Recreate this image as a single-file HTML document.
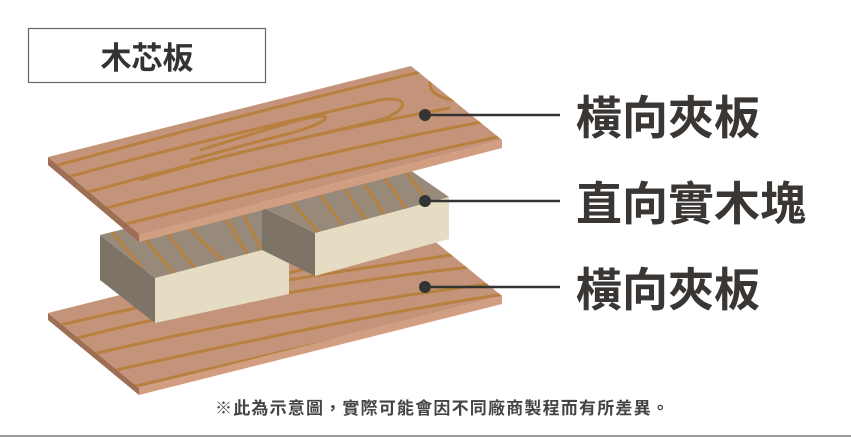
<!DOCTYPE html>
<html><head><meta charset="utf-8"><style>
html,body{margin:0;padding:0;background:#fff;}
body{width:851px;height:437px;overflow:hidden;position:relative;font-family:"Liberation Sans","Noto Sans CJK TC",sans-serif;}
svg{position:absolute;left:0;top:0;}
</style></head><body>
<svg width="851" height="437" viewBox="0 0 851 437" xmlns="http://www.w3.org/2000/svg">
<defs>
<clipPath id="ct"><polygon points="48,157 411,66 502,140 139,234"/></clipPath>
<clipPath id="cb"><polygon points="48,313 411,222 502,296 139,388"/></clipPath>
<clipPath id="cl"><polygon points="100,235 252,197 289,243 155,278"/></clipPath>
<clipPath id="cr"><polygon points="262,207 410,170 449,197 315,233"/></clipPath>
</defs>
<rect x="28.5" y="28.5" width="237" height="54" fill="#fff" stroke="#666" stroke-width="1.2"/>
<text x="147" y="69" font-size="31" font-weight="bold" fill="#333" text-anchor="middle" font-family="Liberation Sans, Noto Sans CJK TC, sans-serif">木芯板</text>

<polygon points="48,313 139,388 139,395 48,320" fill="#9e6e55"/>
<polygon points="139,388 502,296 502,304 139,395" fill="#d29e82"/>
<polygon points="48,313 411,222 502,296 139,388" fill="#c4947a"/>
<g clip-path="url(#cb)" fill="none" stroke="#b8803f" stroke-width="3">
<path d="M40,330 C200,290 350,270 520,245"/>
<path d="M50,345 C220,300 380,275 520,262"/>
<path d="M60,362 C230,320 400,295 520,280"/>
<path d="M80,378 C250,340 420,305 520,292"/>
<path d="M110,392 C270,355 430,315 520,305"/>
<path d="M250,270 C330,250 390,240 400,248 C390,258 330,262 280,275"/>
<path d="M430,225 C420,235 440,245 470,248"/>
</g>

<polygon points="100,235 155,278 155,323 100,280" fill="#7d7467"/>
<polygon points="155,278 289,243 289,294 155,323" fill="#e6dbc3"/>
<polygon points="100,235 252,197 289,243 155,278" fill="#988a7a"/>
<g clip-path="url(#cl)" fill="none" stroke="#b8803f" stroke-width="3">
<path d="M112,232 L160,290"/>
<path d="M135,228 L180,280"/>
<path d="M158,222 L200,275"/>
<path d="M180,218 C200,240 215,255 230,265"/>
<path d="M220,210 C235,230 240,245 250,258"/>
<path d="M238,205 L262,250"/>
</g>

<polygon points="262,207 315,233 315,276 262,250" fill="#7d7467"/>
<polygon points="315,233 449,197 449,239 315,276" fill="#e6dbc3"/>
<polygon points="262,207 410,170 449,197 315,233" fill="#988a7a"/>
<g clip-path="url(#cr)" fill="none" stroke="#b8803f" stroke-width="3">
<path d="M290,200 L325,240"/>
<path d="M320,195 L350,235"/>
<path d="M345,190 L372,228"/>
<path d="M365,185 L390,222"/>
<path d="M385,178 L410,215"/>
<path d="M405,170 L430,205"/>
</g>

<polygon points="48,157 139,234 139,242 48,165" fill="#9e6e55"/>
<polygon points="139,234 502,140 502,148 139,242" fill="#d29e82"/>
<polygon points="48,157 411,66 502,140 139,234" fill="#c4947a"/>
<g clip-path="url(#ct)" fill="none" stroke="#b8803f" stroke-width="3">
<path d="M40,170 C150,140 300,100 420,72"/>
<path d="M50,182 C200,140 330,112 380,100 C410,95 410,110 380,120 C320,135 240,150 140,180"/>
<path d="M200,150 C260,132 300,118 320,116 C335,116 320,126 280,136 C250,143 220,152 190,160"/>
<path d="M60,200 C200,160 340,128 450,108"/>
<path d="M80,215 C230,175 380,140 520,115"/>
<path d="M110,228 C260,190 400,158 520,132"/>
<path d="M440,70 C420,85 430,100 470,102"/>
</g>

<g stroke="#333" stroke-width="2.5">
<line x1="425" y1="115" x2="560" y2="115"/>
<line x1="425" y1="201" x2="560" y2="201"/>
<line x1="425" y1="287" x2="560" y2="287"/>
</g>
<g fill="#333">
<circle cx="425" cy="115" r="6"/>
<circle cx="425" cy="201" r="6"/>
<circle cx="425" cy="287" r="6"/>
</g>
<g font-size="46" font-weight="bold" fill="#3a3634" letter-spacing="0" font-family="Liberation Sans, Noto Sans CJK TC, sans-serif">
<text x="576" y="134">橫向夾板</text>
<text x="576" y="220">直向實木塊</text>
<text x="576" y="306">橫向夾板</text>
</g>
<text x="215" y="414" font-size="17" font-weight="bold" fill="#444" letter-spacing="1.2" font-family="Liberation Sans, Noto Sans CJK TC, sans-serif">※此為示意圖，實際可能會因不同廠商製程而有所差異。</text>
<line x1="0" y1="436" x2="851" y2="436" stroke="#999" stroke-width="2"/>
</svg>
</body></html>
